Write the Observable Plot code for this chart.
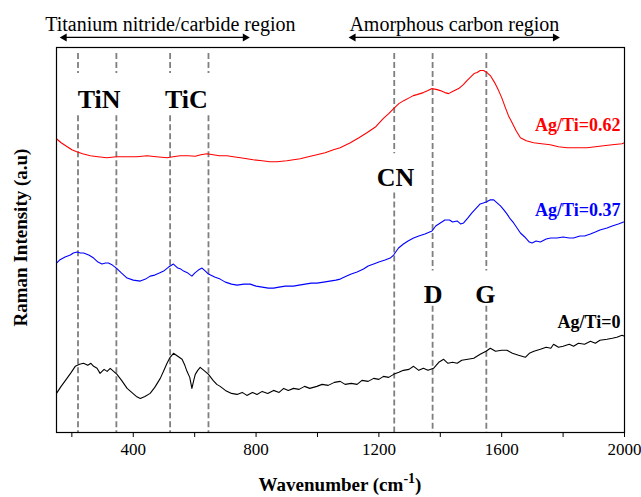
<!DOCTYPE html>
<html><head><meta charset="utf-8">
<script src="https://cdn.jsdelivr.net/npm/d3@7"></script>
<script src="https://cdn.jsdelivr.net/npm/@observablehq/plot@0.6"></script>
<style>body{margin:0;background:#fff}</style>
</head><body><div id="chart"></div>
<script>
// Spectra: [wavenumber (cm-1), intensity (a.u., offset)]
const ratio062 = [[150,293],[165,289],[185,285],[200,282],[216,280],[235,278],[260,276],[285,275],[314,274],[345,275],[380,275],[412,275],[445,276],[475,275],[510,274],[530,275],[553,276],[580,276],[602,275.5],[620,277],[640,278],[660,277],[680,276],[705,276],[726,275],[749,274],[770,273],[791,272],[820,271],[845,270],[868,270],[900,271],[944,273],[970,275],[998,277],[1025,279],[1052,282],[1074,284],[1107,289],[1135,294],[1161,299],[1190,305],[1214,313],[1232,318],[1248,323],[1265,328],[1281,331],[1300,334],[1312,336],[1324,337],[1345,339],[1360,341],[1373,343],[1390,342],[1400,341],[1415,339],[1427,338],[1440,340],[1460,343],[1475,347],[1487,351],[1500,355],[1510,358],[1520,359],[1530,361],[1541,361],[1552,359],[1563,356],[1577,349],[1590,341],[1600,334],[1612,324],[1622,316],[1634,309],[1647,301],[1661,294],[1680,291],[1704,289],[1730,288],[1758,287],[1785,285],[1813,284],[1845,284],[1878,284],[1905,285],[1932,286],[1960,287],[1992,288],[2000,289]];
const ratio037 = [[150,169],[160,172],[178,175],[195,177],[205,179],[217,180],[228,179],[238,179],[255,177],[271,174],[285,170],[298,168],[310,169],[319,169],[332,167],[345,164],[362,159],[380,154],[400,152],[423,151],[440,153],[455,156],[470,157],[485,159],[499,161],[515,165],[531,168],[545,164],[555,163],[564,161],[578,159],[591,156],[600,159],[612,162],[624,164],[635,161],[645,158],[665,155],[683,153],[700,150],[720,148],[738,147],[760,148],[781,148],[800,146],[820,145],[840,144],[857,144],[875,145],[895,146],[922,146],[940,147],[960,148],[980,149],[998,149],[1020,150],[1040,151],[1060,152],[1074,153],[1095,156],[1110,158],[1129,160],[1150,163],[1165,166],[1183,168],[1200,170],[1220,172],[1237,174],[1248,177],[1264,184],[1280,188],[1295,191],[1313,194],[1330,196],[1350,198],[1373,201],[1385,206],[1400,209],[1415,212],[1430,212],[1440,210],[1455,211],[1466,208],[1476,209],[1490,214],[1503,219],[1515,223],[1530,228],[1540,229],[1549,230],[1562,232],[1574,232],[1585,229],[1596,226],[1607,222],[1617,218],[1628,213],[1639,209],[1650,204],[1661,199],[1675,195],[1690,190],[1699,189],[1712,191],[1726,190],[1745,193],[1760,194],[1780,194],[1800,195],[1820,194],[1834,194],[1855,196],[1870,196],[1889,198],[1905,200],[1920,202],[1943,204],[1960,206],[1980,208],[1997,210]];
const ratio0 = [[150,39],[165,46],[184,54],[198,60],[211,66],[225,68],[238,69],[252,67],[262,69],[271,66],[282,64],[292,59],[305,63],[315,61],[325,64],[336,61],[347,58],[362,52],[380,44],[395,40],[410,36],[423,34],[438,36],[455,39],[470,45],[488,54],[500,62],[510,69],[520,75],[531,79],[545,76],[559,73],[568,67],[575,61],[584,55],[591,44],[597,52],[602,58],[610,62],[618,65],[630,62],[645,58],[660,52],[672,48],[683,46],[700,42],[720,39],[738,38],[755,40],[770,37],[788,40],[803,38],[820,41],[838,39],[857,42],[875,40],[890,44],[905,42],[922,44],[940,43],[958,46],[975,44],[998,46],[1015,48],[1035,47],[1055,50],[1074,51],[1090,48],[1110,49],[1129,48],[1145,52],[1165,51],[1183,54],[1200,53],[1215,56],[1232,55],[1248,58],[1265,60],[1280,62],[1298,63],[1313,66],[1330,62],[1345,64],[1360,62],[1378,64],[1395,70],[1411,73],[1425,69],[1440,70],[1455,69],[1470,72],[1490,73],[1509,74],[1530,78],[1549,81],[1563,84],[1580,81],[1600,82],[1617,82],[1635,79],[1655,77],[1677,75],[1690,79],[1705,81],[1726,83],[1745,85],[1760,84],[1769,88],[1785,85],[1800,86],[1820,88],[1834,86],[1850,89],[1870,88],[1889,91],[1905,89],[1920,92],[1943,93],[1960,94],[1975,95],[1992,97],[2000,96]];

const seriesNames = ["Ag/Ti=0.62", "Ag/Ti=0.37", "Ag/Ti=0"];
const seriesColors = ["#ff0000", "#0000ff", "#000000"];
const seriesLabelY = [306, 222, 110];

const peakNames = ["TiN", "TiC", "CN", "D", "G"];
const peakLabelX = [289, 573, 1254, 1377, 1547];
const peakLabelY = [332, 332, 254, 137, 137];
const peakLines = [220, 345, 520, 645, 1250, 1375, 1550];
// gap (label hole) in each dashed line: [bottom of upper piece, top of lower piece]
const peakGaps = [[358,316],[358,316],[358,316],[358,316],[278,239],[161,126],[161,126]];

const regionNames = ["Titanium nitride/carbide region", "Amorphous carbon region"];
const regionText = [113, 1104];
const regionStart = [169, 1110];
const regionEnd = [771, 1781];

const xTicks = d3.range(200, 2001, 200);

const spectra = [ratio062, ratio037, ratio0].flatMap((s, i) =>
  s.map(([w, v]) => ({w, v, series: seriesNames[i]})));
const segs = peakLines.flatMap((x, i) => [
  {x, y1: 378, y2: peakGaps[i][0]},
  {x, y1: peakGaps[i][1], y2: 0}
]);
const labels = seriesNames.map((s, i) => ({s, y: seriesLabelY[i], c: seriesColors[i]}));
const peaks = peakNames.map((n, i) => ({n, x: peakLabelX[i], y: peakLabelY[i]}));
const regions = regionNames.map((n, i) => ({n, t: regionText[i], a: regionStart[i], b: regionEnd[i]}));

const serif = "'Liberation Serif', 'Times New Roman', serif";
const W = 641, H = 497, mL = 56, mR = 17, mT = 47, mB = 65;

const plot = Plot.plot({
  width: W, height: H,
  marginLeft: mL, marginRight: mR, marginTop: mT, marginBottom: mB,
  style: {fontFamily: serif, background: "white", color: "black", overflow: "visible"},
  x: {domain: [150, 2000], label: null},
  y: {domain: [0, 384], axis: null},
  color: {domain: seriesNames, range: seriesColors},
  marks: [
    Plot.ruleX(segs, {x: "x", y1: "y1", y2: "y2", stroke: "#7f7f7f", strokeWidth: 1.8, strokeDasharray: "6,3"}),
    Plot.line(spectra, {x: "w", y: "v", z: "series", stroke: "series", strokeWidth: 1.1}),
    Plot.frame({stroke: "black", strokeWidth: 1.2}),
    Plot.axisX({ticks: xTicks, tickFormat: d => d % 400 === 0 ? String(d) : "", tickSize: 5, tickPadding: 5, fontSize: 17, anchor: "bottom"}),
    Plot.text(peaks, {x: "x", y: "y", text: "n", fontSize: 26, fontWeight: "bold", fill: "black"}),
    Plot.text(labels, {x: 1987, y: "y", text: "s", fill: "c", fontSize: 18, fontWeight: "bold", textAnchor: "end"}),
    Plot.text(regions, {x: "t", y: 407, text: "n", fontSize: 20, textAnchor: "start", fill: "black"}),
    Plot.link(regions, {x1: "a", x2: "b", y1: 394, y2: 394, stroke: "black", strokeWidth: 1.2}),
    Plot.dot(regions, {x: "a", y: 394, symbol: "triangle", r: 3, fill: "black", stroke: null, rotate: -90, dx: 2}),
    Plot.dot(regions, {x: "b", y: 394, symbol: "triangle", r: 3, fill: "black", stroke: null, rotate: 90, dx: -2})
  ]
});

const svg = d3.select(plot);
const t = svg.append("text")
  .attr("x", mL + (W - mL - mR) / 2).attr("y", H - 6)
  .attr("text-anchor", "middle").attr("font-family", serif)
  .attr("font-size", 19).attr("font-weight", "bold").attr("fill", "black");
t.append("tspan").text("Wavenumber (cm");
t.append("tspan").attr("dy", -8).attr("font-size", 14).text("-1");
t.append("tspan").attr("dy", 8).text(")");
svg.append("text")
  .attr("transform", `translate(27,${mT + (H - mT - mB) / 2 - 2}) rotate(-90)`)
  .attr("text-anchor", "middle").attr("font-family", serif)
  .attr("font-size", 19).attr("font-weight", "bold").attr("fill", "black")
  .text("Raman Intensity (a.u)");

document.getElementById("chart").appendChild(plot);
</script>
</body></html>
